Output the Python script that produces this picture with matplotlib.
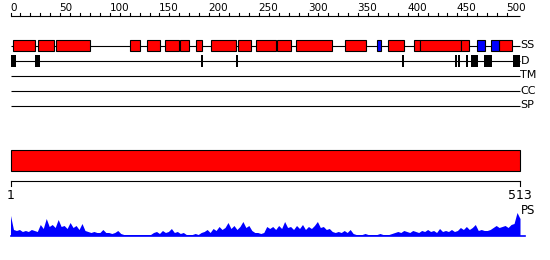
import matplotlib
matplotlib.use("Agg")
import matplotlib.pyplot as plt
from matplotlib.patches import Rectangle

# ---------------- data ----------------
seq_length = 513
axis_major_ticks = [0, 50, 100, 150, 200, 250, 300, 350, 400, 450, 500]
axis_minor_step = 10

helix_segments = [(3, 25), (28, 44), (46, 80), (120, 130), (137, 151), (156, 170),
                  (171, 180), (187, 193), (202, 227), (229, 242), (247, 267), (268, 282),
                  (287, 324), (337, 358), (380, 396), (406, 412), (412, 454), (454, 462),
                  (492, 505)]
strand_segments = [(369, 373), (470, 478), (484, 492)]
disorder_segments = [(0, 6), (25, 30), (192, 194), (227, 228), (394, 395), (448, 449),
                     (451, 452), (459, 460), (464, 471), (477, 485), (506, 513)]
track_labels = ["SS", "D", "TM", "CC", "SP"]
domain_segments = [(1, 513)]
bottom_labels = ["1", "513"]

ps_residues = list(range(0, 511, 3)) + [513]
ps_values = [20, 6, 5, 6, 4, 5, 4, 6, 5, 4,
             11, 7, 17, 9, 11, 8, 16, 9, 10, 7,
             13, 8, 10, 6, 12, 5, 4, 3, 4, 3,
             3, 6, 3, 3, 2, 3, 5, 2, 1, 1,
             1, 1, 1, 1, 1, 1, 1, 1, 3, 4,
             2, 5, 3, 4, 7, 3, 4, 2, 3, 1,
             1, 1, 2, 1, 3, 4, 6, 3, 7, 5,
             9, 6, 8, 13, 7, 10, 6, 9, 14, 8,
             10, 5, 3, 3, 2, 3, 9, 7, 9, 6,
             10, 7, 14, 8, 9, 6, 10, 7, 11, 6,
             9, 7, 10, 14, 8, 9, 6, 7, 4, 3,
             4, 3, 5, 3, 6, 2, 1, 1, 1, 2,
             1, 1, 1, 1, 2, 1, 1, 1, 2, 3,
             4, 3, 5, 4, 3, 5, 4, 3, 5, 4,
             6, 4, 5, 3, 7, 4, 5, 4, 6, 4,
             5, 8, 6, 9, 6, 8, 11, 5, 6, 5,
             5, 6, 8, 10, 8, 9, 10, 8, 11, 12,
             23, 17]

# ---------------- layout (pixel based) ----------------
W, H = 550, 260
px0, px1 = 10.5, 520.0
k = (px1 - px0) / seq_length

plt.rcParams["font.family"] = ["DejaVu Sans"]
fig = plt.figure(figsize=(W / 100, H / 100), dpi=100)
ax = fig.add_axes([0, 0, 1, 1])
ax.set_xlim(-px0 / k, (W - px0) / k)
ax.set_ylim(H, 0)
ax.axis("off")

lw = 0.8

# top ruler
y_rule = 15.5
ax.plot([0, seq_length], [y_rule, y_rule], color="black", lw=lw, solid_capstyle="butt")
for t in range(0, 501, axis_minor_step):
    ax.plot([t, t], [y_rule, y_rule - 3], color="black", lw=lw)
for t in axis_major_ticks:
    ax.text(t - 0.5, y_rule - 4.5, str(t), fontsize=7.5, ha="left", va="baseline")

# tracks
track_y = [45.5, 60.5, 75.5, 90.5, 105.5]
for y, lab in zip(track_y, track_labels):
    ax.plot([0, seq_length], [y, y], color="black", lw=lw, solid_capstyle="butt", zorder=1)
    ax.text(seq_length + 0.5, y, lab, fontsize=8, ha="left", va="center")

for s, e in helix_segments:
    ax.add_patch(Rectangle((s, 40), e - s, 11, facecolor="#ff0000", edgecolor="black",
                           lw=lw, zorder=2))
for s, e in strand_segments:
    ax.add_patch(Rectangle((s, 40), e - s, 11, facecolor="#0000ff", edgecolor="black",
                           lw=lw, zorder=2))
for s, e in disorder_segments:
    w = max(e - s, 2)
    ax.add_patch(Rectangle((s, 54.5), w, 12, facecolor="black", edgecolor="none", zorder=2))

# domain bar
for s, e in domain_segments:
    ax.add_patch(Rectangle((s - 1, 150), e - s + 1, 20.5, facecolor="#ff0000",
                           edgecolor="black", lw=lw))

# bottom ruler
y_b = 180.5
ax.plot([0, seq_length], [y_b, y_b], color="black", lw=lw)
ax.plot([0, 0], [y_b, y_b + 5], color="black", lw=lw)
ax.plot([seq_length, seq_length], [y_b, y_b + 5], color="black", lw=lw)
ax.text(0.5, 189, bottom_labels[0], fontsize=9, ha="center", va="top")
ax.text(seq_length, 189, bottom_labels[1], fontsize=9, ha="center", va="top")

# PS profile
base = 235.5
n = min(len(ps_residues), len(ps_values))
ax.fill_between(ps_residues[:n], base, [base - v for v in ps_values[:n]],
                color="#0000ff", lw=0)
ax.plot([0, seq_length + 5], [base, base], color="#0000ff", lw=1.2)
ax.text(seq_length + 0.5, 210.5, "PS", fontsize=8.5, ha="left", va="center")

fig.savefig("out.png", dpi=100)
